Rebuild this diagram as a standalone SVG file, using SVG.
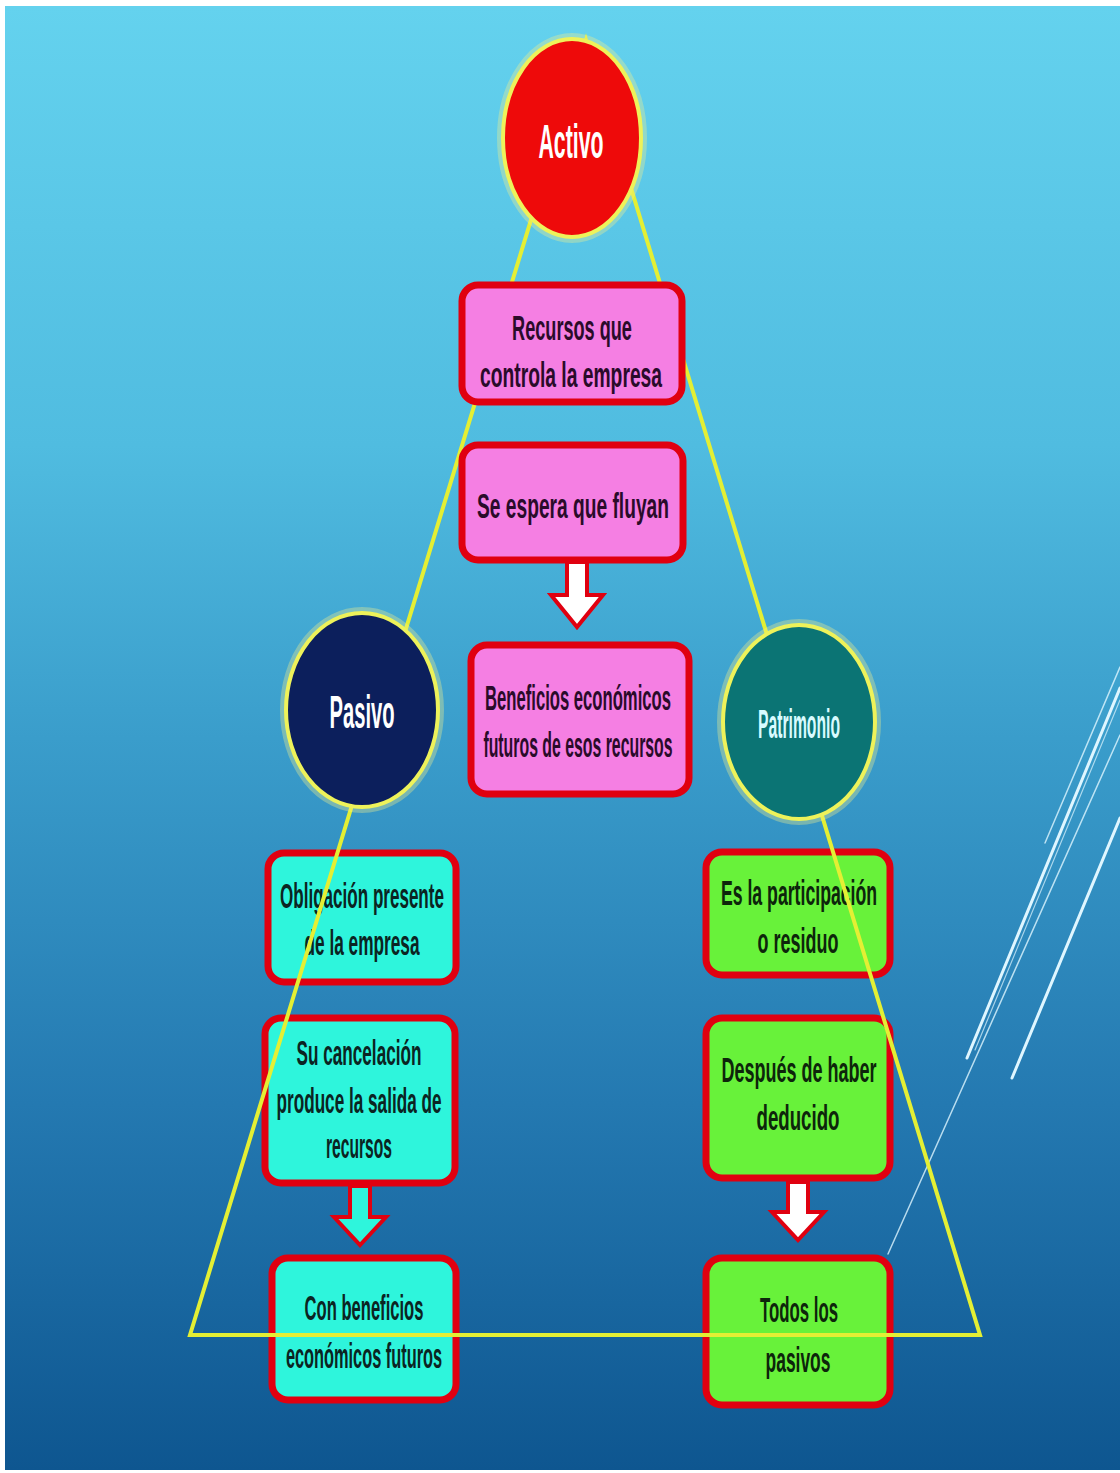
<svg xmlns="http://www.w3.org/2000/svg" width="1120" height="1473" viewBox="0 0 1120 1473">
<defs>
<linearGradient id="bg" x1="0" y1="0" x2="0" y2="1">
<stop offset="0" stop-color="#64d2ee"/>
<stop offset="0.3" stop-color="#50bce0"/>
<stop offset="0.5" stop-color="#3a9dcb"/>
<stop offset="0.75" stop-color="#2479b1"/>
<stop offset="1" stop-color="#0e5690"/>
</linearGradient>
<style>
.box{stroke:#e00010;stroke-width:7;}
.pink{fill:#f57fe3;}
.cyan{fill:#2ef5dc;}
.green{fill:#68f23a;}
.t{font-family:"Liberation Sans",Arial,sans-serif;font-weight:bold;text-anchor:middle;font-size:35px;}
.tp{fill:#2a0b2a;}
.tc{fill:#0b2422;}
.tg{fill:#0d250b;}
.ct{font-family:"Liberation Sans",Arial,sans-serif;font-weight:bold;text-anchor:middle;fill:#ffffff;}
.halo{fill:none;stroke:#f6f08a;stroke-width:10;stroke-opacity:0.35;}
.ring{stroke:#eef25a;stroke-width:4;}
.tri{fill:none;stroke:#e4ef34;stroke-width:4;stroke-linejoin:miter;}
.deco{stroke:#dff6ff;stroke-linecap:round;}
.arrow{stroke:#e00010;stroke-width:4;stroke-linejoin:miter;}
</style>
</defs>
<rect x="0" y="0" width="1120" height="1473" fill="#ffffff"/>
<rect x="5" y="6" width="1115" height="1464" fill="url(#bg)"/>
<g id="decoration">
<line class="deco" x1="1120" y1="667" x2="1045" y2="843" stroke-width="1.5" stroke-opacity="0.8"/>
<line class="deco" x1="1120" y1="688" x2="967" y2="1058" stroke-width="3"/>
<line class="deco" x1="1120" y1="700" x2="975" y2="1050" stroke-width="1.2" stroke-opacity="0.7"/>
<line class="deco" x1="1120" y1="735" x2="888" y2="1254" stroke-width="1.5" stroke-opacity="0.8"/>
<line class="deco" x1="1120" y1="818" x2="1012" y2="1078" stroke-width="3"/>
</g>
<g id="node-obligacion">
<rect class="box cyan" x="268" y="853" width="188" height="129" rx="16"/>
<text class="t tc" transform="translate(362 0) scale(0.55 1)" x="0" y="908" textLength="298" lengthAdjust="spacingAndGlyphs">Obligación presente</text>
<text class="t tc" transform="translate(362 0) scale(0.55 1)" x="0" y="955" textLength="209" lengthAdjust="spacingAndGlyphs">de la empresa</text>
</g>
<g id="node-cancelacion">
<rect class="box cyan" x="265" y="1018" width="190" height="165" rx="16"/>
<text class="t tc" transform="translate(359 0) scale(0.55 1)" x="0" y="1065" textLength="227" lengthAdjust="spacingAndGlyphs">Su cancelación</text>
<text class="t tc" transform="translate(359 0) scale(0.55 1)" x="0" y="1113" textLength="300" lengthAdjust="spacingAndGlyphs">produce la salida de</text>
<text class="t tc" transform="translate(359 0) scale(0.55 1)" x="0" y="1158" textLength="120" lengthAdjust="spacingAndGlyphs">recursos</text>
</g>
<g id="node-con-beneficios">
<rect class="box cyan" x="272" y="1258" width="184" height="142" rx="16"/>
<text class="t tc" transform="translate(364 0) scale(0.55 1)" x="0" y="1320" textLength="216" lengthAdjust="spacingAndGlyphs">Con beneficios</text>
<text class="t tc" transform="translate(364 0) scale(0.55 1)" x="0" y="1368" textLength="284" lengthAdjust="spacingAndGlyphs">económicos futuros</text>
</g>
<g id="node-participacion">
<rect class="box green" x="706" y="852" width="184" height="123" rx="16"/>
<text class="t tg" transform="translate(799 0) scale(0.55 1)" x="0" y="905" textLength="284" lengthAdjust="spacingAndGlyphs">Es la participación</text>
<text class="t tg" transform="translate(798 0) scale(0.55 1)" x="0" y="953" textLength="147" lengthAdjust="spacingAndGlyphs">o residuo</text>
</g>
<g id="node-despues">
<rect class="box green" x="706" y="1018" width="184" height="160" rx="16"/>
<text class="t tg" transform="translate(799 0) scale(0.55 1)" x="0" y="1082" textLength="282" lengthAdjust="spacingAndGlyphs">Después de haber</text>
<text class="t tg" transform="translate(798 0) scale(0.55 1)" x="0" y="1130" textLength="151" lengthAdjust="spacingAndGlyphs">deducido</text>
</g>
<g id="node-todos">
<rect class="box green" x="706" y="1258" width="184" height="147" rx="16"/>
<text class="t tg" transform="translate(799 0) scale(0.55 1)" x="0" y="1322" textLength="142" lengthAdjust="spacingAndGlyphs">Todos los</text>
<text class="t tg" transform="translate(798 0) scale(0.55 1)" x="0" y="1372" textLength="118" lengthAdjust="spacingAndGlyphs">pasivos</text>
</g>
<g id="connectors">
<polygon class="tri" points="586,40 190,1335 980,1335"/>
<path class="arrow" fill="#ffffff" d="M567,562 L587,562 L587,595 L603,595 L577,627 L551,595 L567,595 Z"/>
<path class="arrow" fill="#2ef5dc" d="M350,1186 L370,1186 L370,1217 L386,1217 L360,1245 L334,1217 L350,1217 Z"/>
<path class="arrow" fill="#ffffff" d="M788,1182 L808,1182 L808,1212 L824,1212 L798,1240 L772,1212 L788,1212 Z"/>
</g>
<g id="node-recursos">
<rect class="box pink" x="462" y="285" width="220" height="117" rx="16"/>
<text class="t tp" transform="translate(572 0) scale(0.55 1)" x="0" y="340" textLength="218" lengthAdjust="spacingAndGlyphs">Recursos que</text>
<text class="t tp" transform="translate(571 0) scale(0.55 1)" x="0" y="387" textLength="331" lengthAdjust="spacingAndGlyphs">controla la empresa</text>
</g>
<g id="node-fluyan">
<rect class="box pink" x="462" y="445" width="221" height="115" rx="16"/>
<text class="t tp" transform="translate(573 0) scale(0.55 1)" x="0" y="518" textLength="349" lengthAdjust="spacingAndGlyphs">Se espera que fluyan</text>
</g>
<g id="node-beneficios">
<rect class="box pink" x="471" y="645" width="218" height="149" rx="16"/>
<text class="t tp" transform="translate(578 0) scale(0.55 1)" x="0" y="710" textLength="338" lengthAdjust="spacingAndGlyphs">Beneficios económicos</text>
<text class="t tp" transform="translate(578 0) scale(0.55 1)" x="0" y="757" textLength="344" lengthAdjust="spacingAndGlyphs">futuros de esos recursos</text>
</g>
<g id="node-activo">
<ellipse class="halo" cx="572" cy="138" rx="70" ry="100"/>
<ellipse class="ring" fill="#ee0a0a" cx="572" cy="138" rx="69" ry="99"/>
<text class="ct" transform="translate(571 0) scale(0.5 1)" x="0" y="158" font-size="48" textLength="130" lengthAdjust="spacingAndGlyphs">Activo</text>
</g>
<g id="node-pasivo">
<ellipse class="halo" cx="362" cy="710" rx="77" ry="98"/>
<ellipse class="ring" fill="#0c1f5c" cx="362" cy="710" rx="76" ry="97"/>
<text class="ct" transform="translate(362 0) scale(0.5 1)" x="0" y="728" font-size="46" textLength="130" lengthAdjust="spacingAndGlyphs">Pasivo</text>
</g>
<g id="node-patrimonio">
<ellipse class="halo" cx="799" cy="722" rx="77" ry="98"/>
<ellipse class="ring" fill="#0b7474" cx="799" cy="722" rx="76" ry="97"/>
<text class="ct" transform="translate(799 0) scale(0.5 1)" x="0" y="738" font-size="40" style="fill:#d8fbff" textLength="164" lengthAdjust="spacingAndGlyphs">Patrimonio</text>
</g>
</svg>
